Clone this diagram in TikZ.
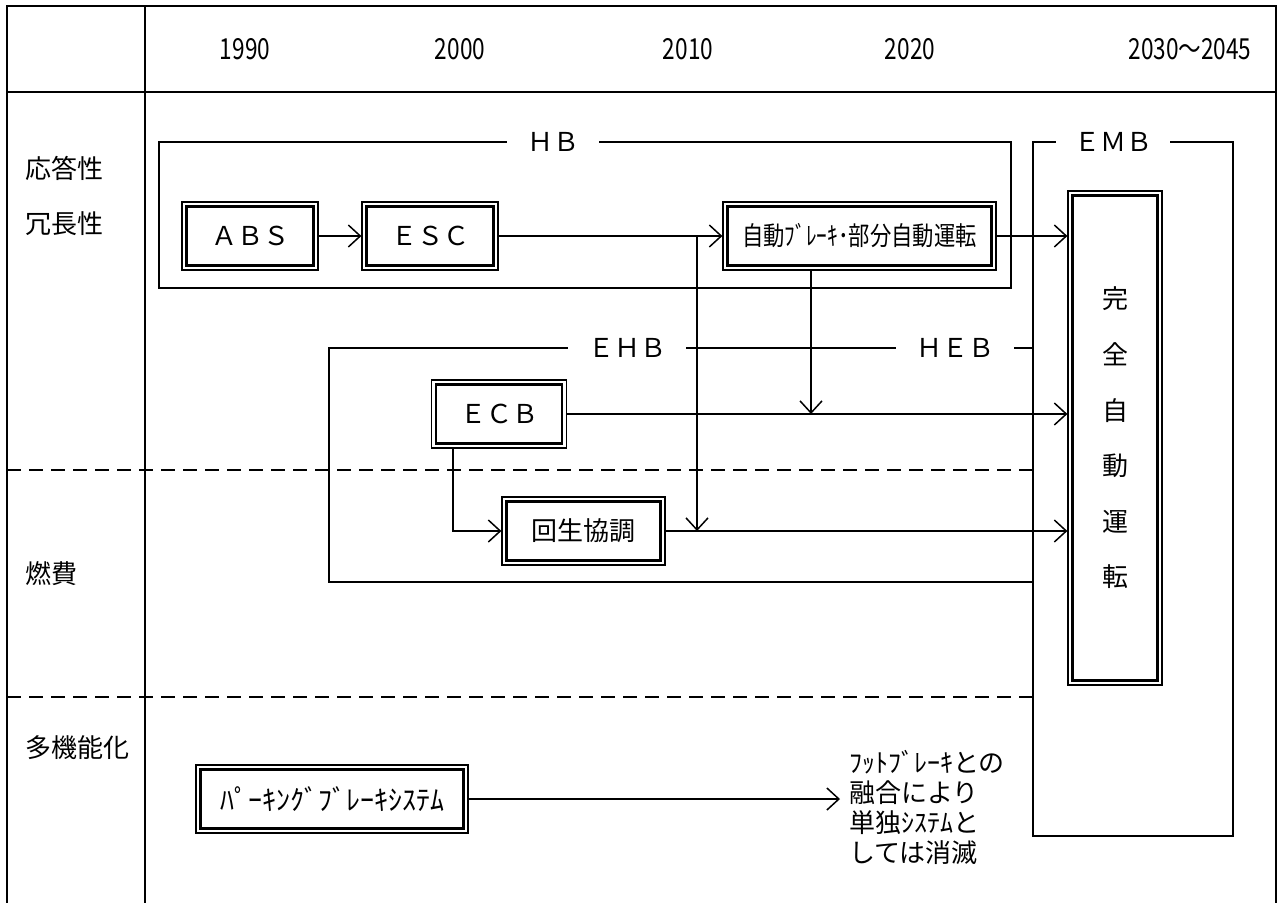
\documentclass[tikz,border=0pt]{standalone}
\usepackage{fontspec}
\usepackage{graphicx}
\newfontfamily\jpf{Noto Sans CJK JP}
\usetikzlibrary{arrows.meta}
\newcommand\JPn{\jpf\fontsize{26}{30}\selectfont}
\newcommand\JPy{\jpf\fontsize{29}{32}\selectfont}
\newcommand\JPp{\jpf\fontsize{28}{30}\selectfont}
\begin{document}
\begin{tikzpicture}[x=1pt,y=-1pt,
  >={Straight Barb[length=12pt,width=22pt]},
  tbl/.style={line width=2.2pt},
  dashln/.style={line width=2pt,dash pattern=on 14pt off 8pt},
  grp/.style={draw,line width=1.5pt},
  conn/.style={line width=1.5pt,->},
  dbox/.style={draw,line width=1.2pt,inner sep=0pt,minimum height=68,font=\JPn},
  glabel/.style={fill=white,inner xsep=20pt,inner ysep=4pt,font=\JPn},
  yearlbl/.style={font=\JPy,inner sep=0pt},
  rowlbl/.style={font=\JPn,anchor=west,inner sep=0pt},
  note/.style={font=\JPn,anchor=north west,align=left,inner sep=0pt}]
\useasboundingbox (0,0) rectangle (1281,902);
\fill[white] (0,0) rectangle (1281,902);
% table
\draw[tbl] (7,905) -- (7,6) -- (1276,6) -- (1276,905);
\draw[tbl] (145,6) -- (145,905);
\draw[tbl] (7,92) -- (1276,92);
\draw[dashln] (7,470) -- (1033,470);
\draw[dashln] (7,697) -- (1033,697);
% years
\node[yearlbl] (y1990) at (245,49) {\scalebox{0.78}[1]{1990}};
\node[yearlbl] (y2000) at (460,49) {\scalebox{0.78}[1]{2000}};
\node[yearlbl] (y2010) at (688,49) {\scalebox{0.78}[1]{2010}};
\node[yearlbl] (y2020) at (910,49) {\scalebox{0.78}[1]{2020}};
\node[yearlbl] (y2030) at (1190,49) {\scalebox{0.78}[1]{2030〜2045}};
% row labels
\node[rowlbl] (r1) at (25,168) {応答性};
\node[rowlbl] (r2) at (25,224) {冗長性};
\node[rowlbl] (r3) at (25,574) {燃費};
\node[rowlbl] (r4) at (25,748) {多機能化};
% group boxes
\draw[grp] (159,142) rectangle (1011,288);
\node[glabel] (hb) at (553,142) {ＨＢ};
\draw[grp] (1033,142) rectangle (1233,836);
\node[glabel,inner xsep=18pt] (emb) at (1113,142) {ＥＭＢ};
\draw[grp] (1033,348) -- (329,348) -- (329,582) -- (1033,582);
\node[glabel] (ehb) at (627,348) {ＥＨＢ};
\node[glabel] (heb) at (955,348) {ＨＥＢ};
% boxes
\node[dbox,minimum width=136] (abs) at (250,236) {ＡＢＳ};
\node[dbox,minimum width=136] (esc) at (430,236) {ＥＳＣ};
\node[dbox,minimum width=273] (auto) at (859.5,236) {\scalebox{0.82}[1]{自動ﾌﾞﾚｰｷ･部分自動運転}};
\node[dbox,minimum width=135] (ecb) at (499,414) {ＥＣＢ};
\node[dbox,minimum width=163] (regen) at (583.5,531) {回生協調};
\node[dbox,minimum width=272,font=\JPp] (park) at (332,799) {ﾊﾟｰｷﾝｸﾞﾌﾞﾚｰｷｼｽﾃﾑ};
\node[dbox,minimum width=94,minimum height=494,align=center,font={\jpf\fontsize{26}{55.6}\selectfont}] (kan) at (1115,438) {完\\全\\自\\動\\運\\転};
\foreach \n in {abs,esc,auto,ecb,regen,park,kan}
  \draw[line width=2.6pt] ([shift={(5,5)}]\n.north west) rectangle ([shift={(-5,-5)}]\n.south east);
% connectors
\draw[conn] (abs.east) -- (esc.west);
\draw[conn] (esc.east) -- (auto.west);
\draw[conn] (auto.east) -- (auto.east -| kan.west);
\coordinate (sp) at (697,236);
\draw[conn] (sp) -- (sp |- regen.east);
\coordinate (ad) at ([xshift=-48.5pt]auto.south);
\draw[conn] (ad) -- (ad |- ecb.east);
\draw[conn] (ecb.east) -- (ecb.east -| kan.west);
\draw[conn] ([xshift=-46pt]ecb.south) |- (regen.west);
\draw[conn] (regen.east) -- (regen.east -| kan.west);
\coordinate (pe) at (840,799);
\draw[conn] (park.east) -- (pe);
\node[note] (nt) at (849,750) {\fontsize{26}{34.5}\selectfont ﾌｯﾄﾌﾞﾚｰｷとの\\融合により\\単独ｼｽﾃﾑと\\しては消滅};
\end{tikzpicture}
\end{document}
